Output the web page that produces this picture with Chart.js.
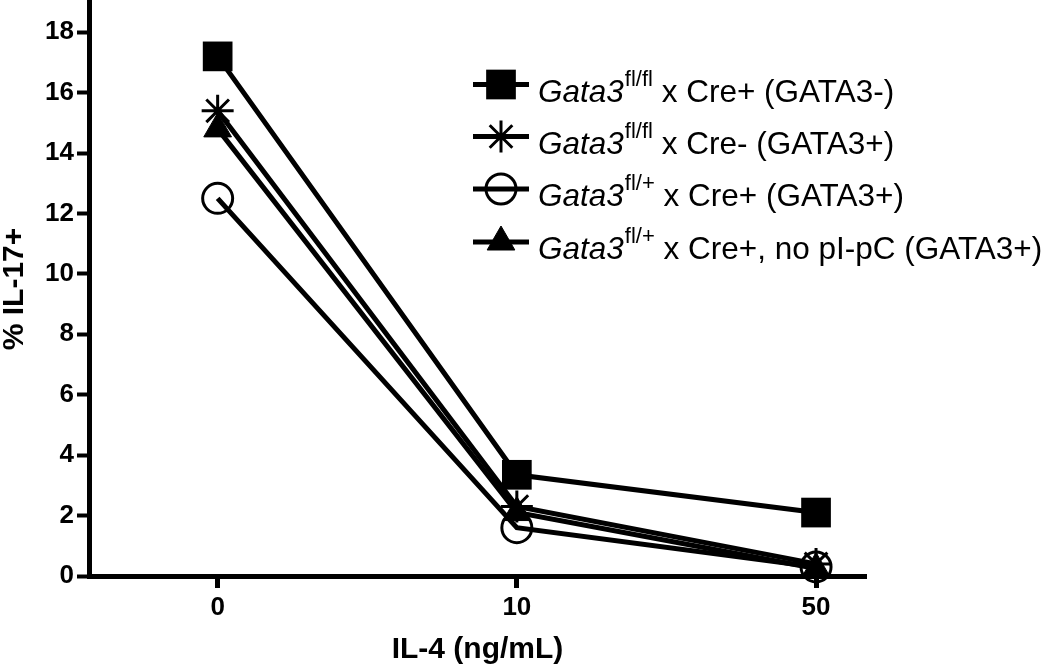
<!DOCTYPE html>
<html><head><meta charset="utf-8">
<script src="https://cdn.jsdelivr.net/npm/chart.js@4/dist/chart.umd.min.js"></script>
<style>html,body{margin:0;padding:0;background:#fff;}#wrap{width:1050px;height:669px;}</style>
</head><body><div id="wrap"><canvas id="c" width="1050" height="669"></canvas></div>
<script>
// ---- data ----
const categories = ['0', '10', '50'];
const xTitle = 'IL-4 (ng/mL)';
const yTitle = '% IL-17+';
const yTicks = [0, 2, 4, 6, 8, 10, 12, 14, 16, 18];
const seriesSquare = [17.2, 3.35, 2.1];
const seriesStar = [15.4, 2.3, 0.4];
const seriesCircle = [12.5, 1.6, 0.3];
const seriesTriangle = [14.8, 2.1, 0.25];
const legendItalic = ['Gata3', 'Gata3', 'Gata3', 'Gata3'];
const legendSup = ['fl/fl', 'fl/fl', 'fl/+', 'fl/+'];
const legendRest = [' x Cre+ (GATA3-)', ' x Cre- (GATA3+)', ' x Cre+ (GATA3+)', ' x Cre+, no pI-pC (GATA3+)'];

const FONT = '"Liberation Sans", Arial, sans-serif';
const toPts = arr => arr.map((v, i) => ({x: i, y: v}));

const styles = [
  {pointStyle: 'rect', pointRadius: 21, pointBackgroundColor: '#000', pointBorderWidth: 0},
  {pointStyle: 'star', pointRadius: 16, pointBackgroundColor: '#000', pointBorderWidth: 3},
  {pointStyle: 'circle', pointRadius: 15, pointBackgroundColor: 'rgba(0,0,0,0)', pointBorderWidth: 3},
  {pointStyle: 'triangle', pointRadius: 16, pointBackgroundColor: '#000', pointBorderWidth: 1}
];
const seriesList = [seriesSquare, seriesStar, seriesCircle, seriesTriangle];

const datasets = seriesList.map((s, i) => Object.assign({
  label: legendItalic[i] + legendSup[i] + legendRest[i],
  data: toPts(s),
  borderColor: '#000',
  borderWidth: 5,
  pointBorderColor: '#000',
  showLine: true,
  clip: false
}, styles[i]));

function drawMarker(ctx, st, x, y) {
  const opts = {pointStyle: st.pointStyle, radius: st.pointRadius, rotation: 0, borderWidth: st.pointBorderWidth};
  ctx.save();
  ctx.fillStyle = st.pointBackgroundColor;
  ctx.strokeStyle = '#000';
  ctx.lineWidth = st.pointBorderWidth;
  if (Chart.helpers && Chart.helpers.drawPoint) {
    Chart.helpers.drawPoint(ctx, opts, x, y);
  }
  ctx.restore();
}

const legendPlugin = {
  id: 'customLegend',
  afterDraw(chart) {
    const ctx = chart.ctx;
    const rowY = [84.5, 136.5, 189, 242];
    for (let i = 0; i < 4; i++) {
      const y = rowY[i];
      ctx.save();
      ctx.strokeStyle = '#000';
      ctx.lineWidth = 5;
      ctx.beginPath();
      ctx.moveTo(473, y);
      ctx.lineTo(529, y);
      ctx.stroke();
      ctx.restore();
      drawMarker(ctx, styles[i], 501, y);
      ctx.save();
      ctx.fillStyle = '#000';
      ctx.textBaseline = 'alphabetic';
      ctx.textAlign = 'left';
      let x = 538;
      const base = y + 17;
      ctx.font = 'italic 31.5px ' + FONT;
      ctx.fillText(legendItalic[i], x, base);
      x += ctx.measureText(legendItalic[i]).width + 1;
      ctx.font = '22px ' + FONT;
      ctx.fillText(legendSup[i], x, base - 16);
      x += ctx.measureText(legendSup[i]).width;
      ctx.font = '31.5px ' + FONT;
      ctx.fillText(legendRest[i], x, base);
      ctx.restore();
    }
  }
};

new Chart(document.getElementById('c'), {
  type: 'line',
  data: {datasets},
  plugins: [legendPlugin],
  options: {
    responsive: false,
    devicePixelRatio: 1,
    animation: false,
    layout: {autoPadding: false, padding: {left: 0, right: 184, top: 2, bottom: 0}},
    plugins: {legend: {display: false}, tooltip: {enabled: false}},
    scales: {
      x: {
        type: 'linear',
        min: -0.43,
        max: 2.167,
        afterBuildTicks: s => { s.ticks = categories.map((c, i) => ({value: i})); },
        afterFit: s => { s.height = 93; s.paddingLeft = 0; s.paddingRight = 0; },
        ticks: {
          callback: v => categories[v],
          font: {family: FONT, size: 26, weight: 'bold'},
          color: '#000',
          padding: 4,
          maxRotation: 0,
          autoSkip: false
        },
        grid: {drawOnChartArea: false, drawTicks: true, tickLength: 12, tickWidth: 5, tickColor: '#000'},
        border: {display: true, color: '#000', width: 5},
        title: {display: true, text: xTitle, color: '#000', font: {family: FONT, size: 30, weight: 'bold'}, padding: {top: 0, bottom: 1}}
      },
      y: {
        min: 0,
        max: 19,
        afterBuildTicks: s => { s.ticks = yTicks.map(v => ({value: v})); },
        afterFit: s => { s.width = 89; s.paddingTop = 0; s.paddingBottom = 0; },
        ticks: {
          font: {family: FONT, size: 26, weight: 'bold'},
          color: '#000',
          padding: 3
        },
        grid: {drawOnChartArea: false, drawTicks: true, tickLength: 12, tickWidth: 4, tickColor: '#000'},
        border: {display: true, color: '#000', width: 5},
        title: {display: true, text: yTitle, color: '#000', font: {family: FONT, size: 30, weight: 'bold', lineHeight: 1}, padding: 0}
      }
    }
  }
});
</script>
</body></html>
